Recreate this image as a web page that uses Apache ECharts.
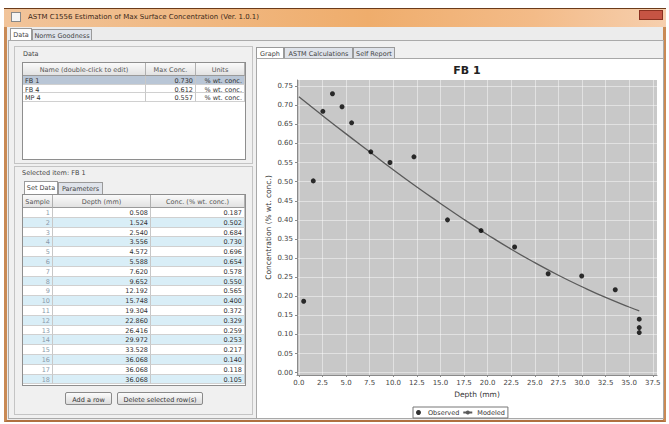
<!DOCTYPE html>
<html><head><meta charset="utf-8">
<script src="https://cdn.jsdelivr.net/npm/echarts@6/dist/echarts.min.js"></script>
<style>
html,body{margin:0;padding:0;width:669px;height:424px;overflow:hidden;background:#fff;font-family:"DejaVu Sans","Liberation Sans",sans-serif;}
.a{position:absolute;box-sizing:border-box;white-space:nowrap;overflow:hidden;}
.t{font-size:7px;color:#444;line-height:1;}
.tab{background:#dfe3ea;border:1px solid #9a9a9a;border-bottom:none;font-size:6.5px;color:#444;text-align:center;padding-top:2px;}
.tab.sel{background:#fff;}
.grp{border:1px solid #c4c4c4;}
.tbl{border:1px solid #8e8e8e;background:#fff;}
.hd{background:linear-gradient(#fafafa,#e2e2e2);border-right:1px solid #b0b0b0;border-bottom:1px solid #9a9a9a;font-size:6.5px;color:#555;text-align:center;padding-top:3px;}
.cell{font-size:6.5px;color:#333;border-right:1px solid #c8c8c8;border-bottom:1px solid #d0d0d0;padding:1px 2px 0 2px;}
.btn{border:1px solid #8a8a8a;border-radius:2px;background:linear-gradient(#fbfbfb,#dcdcdc);font-size:6.5px;color:#333;text-align:center;padding-top:3px;}
#chart{position:absolute;left:0;top:0;width:669px;height:424px;z-index:5;}
</style></head><body>
<!-- window frame -->
<div class="a" style="left:4px;top:8px;width:662px;height:414px;background:#ececec;border-left:3px solid #c98a55;border-right:3px solid #c98a55;border-bottom:2px solid #b07040;"></div>
<div class="a" style="left:4px;top:8px;width:662px;height:19px;background:linear-gradient(to right,#f1c49a,#efad6c 55%,#f3bb88 80%,#f6cfae);border-top:1px solid #6b3b1a;"></div>
<div class="a" style="left:11px;top:12px;width:10px;height:10px;background:#f4f4f4;border:1px solid #888;"></div>
<div class="a t" style="left:28px;top:14px;color:#3a2818;">ASTM C1556 Estimation of Max Surface Concentration (Ver. 1.0.1)</div>
<div class="a" style="left:639px;top:10px;width:24px;height:10px;background:#c65444;border:1px solid #8a3020;"></div>
<!-- main tabs -->
<div class="a tab sel" style="left:10px;top:28px;width:22px;height:12px;">Data</div>
<div class="a tab" style="left:32px;top:29px;width:60px;height:11px;">Norms Goodness</div>
<div class="a" style="left:8px;top:40px;width:656px;height:379px;background:#f0f0f0;border:1px solid #aaa;"></div>
<!-- Data group -->
<div class="a grp" style="left:14px;top:46px;width:239px;height:118px;"></div>
<div class="a t" style="left:23px;top:51px;font-size:6.5px;">Data</div>
<div class="a tbl" id="topTable" style="left:22px;top:62px;width:224px;height:98px;"></div>
<!-- Selected item group -->
<div class="a grp" style="left:14px;top:166px;width:239px;height:249px;"></div>
<div class="a t" id="selLabel" style="left:22px;top:170px;font-size:6.5px;"></div>
<div class="a tab sel" style="left:24px;top:181px;width:34px;height:13px;">Set Data</div>
<div class="a tab" style="left:58px;top:182px;width:45px;height:12px;">Parameters</div>
<div class="a tbl" id="sampleTable" style="left:22px;top:194px;width:224px;height:192px;"></div>
<div class="a btn" style="left:65px;top:392px;width:47px;height:13px;">Add a row</div>
<div class="a btn" style="left:117px;top:392px;width:86px;height:13px;">Delete selected row(s)</div>
<!-- right panel -->
<div class="a tab sel" style="left:256px;top:47px;width:28px;height:11px;">Graph</div>
<div class="a tab" style="left:284px;top:47px;width:69px;height:11px;">ASTM Calculations</div>
<div class="a tab" style="left:353px;top:47px;width:42px;height:11px;">Self Report</div>
<div class="a" style="left:256px;top:58px;width:408px;height:361px;background:#fff;border:1px solid #a8a8a8;"></div>
<div id="chart"></div>
<script>
// ---- data ----
const itemNames = ['FB 1', 'FB 4', 'MP 4'];
const itemMaxConc = ['0.730', '0.612', '0.557'];
const itemUnits = ['% wt. conc.', '% wt. conc.', '% wt. conc.'];
const selectedItem = 'FB 1';

const depth = [0.508, 1.524, 2.540, 3.556, 4.572, 5.588, 7.620, 9.652, 12.192, 15.748, 19.304, 22.860, 26.416, 29.972, 33.528, 36.068, 36.068, 36.068];
const conc  = [0.187, 0.502, 0.684, 0.730, 0.696, 0.654, 0.578, 0.550, 0.565, 0.400, 0.372, 0.329, 0.259, 0.253, 0.217, 0.140, 0.118, 0.105];

const modelDepth = [0, 2.5, 5, 7.5, 10, 12.5, 15, 17.5, 20, 22.5, 25, 27.5, 30, 32.5, 35, 36.07];
const modelConc  = [0.722, 0.673, 0.625, 0.578, 0.531, 0.486, 0.443, 0.401, 0.361, 0.323, 0.288, 0.255, 0.225, 0.197, 0.172, 0.162];

const xTicks = [0, 2.5, 5, 7.5, 10, 12.5, 15, 17.5, 20, 22.5, 25, 27.5, 30, 32.5, 35, 37.5];
const yTicks = [0, 0.05, 0.10, 0.15, 0.20, 0.25, 0.30, 0.35, 0.40, 0.45, 0.50, 0.55, 0.60, 0.65, 0.70, 0.75];

// ---- GUI tables ----
(function () {
  const tt = document.getElementById('topTable');
  const cols = [[0, 123, 'Name (double-click to edit)'], [123, 50, 'Max Conc.'], [173, 49, 'Units']];
  let h = '';
  cols.forEach(c => { h += `<div class="a hd" style="left:${c[0]}px;top:0;width:${c[1]}px;height:13px;">${c[2]}</div>`; });
  itemNames.forEach((n, i) => {
    const top = 13 + i * 8.5;
    const bg = i === 0 ? '#b9c6d6' : '#fff';
    h += `<div class="a cell" style="left:0;top:${top}px;width:123px;height:8.5px;background:${bg};">${n}</div>`;
    h += `<div class="a cell" style="left:123px;top:${top}px;width:50px;height:8.5px;background:${bg};text-align:right;">${itemMaxConc[i]}</div>`;
    h += `<div class="a cell" style="left:173px;top:${top}px;width:49px;height:8.5px;background:${bg};text-align:right;">${itemUnits[i]}</div>`;
  });
  tt.innerHTML = h;
  document.getElementById('selLabel').textContent = 'Selected item: ' + selectedItem;

  const st = document.getElementById('sampleTable');
  const c2 = [[0, 30, 'Sample'], [30, 98, 'Depth (mm)'], [128, 94, 'Conc. (% wt. conc.)']];
  h = '';
  c2.forEach(c => { h += `<div class="a hd" style="left:${c[0]}px;top:0;width:${c[1]}px;height:13px;">${c[2]}</div>`; });
  depth.forEach((d, i) => {
    const top = 13 + i * 9.8;
    const bg = i % 2 === 0 ? '#ffffff' : '#d9eef7';
    h += `<div class="a cell" style="left:0;top:${top}px;width:30px;height:9.8px;background:${bg};text-align:right;color:#8a9aaa;">${i + 1}</div>`;
    h += `<div class="a cell" style="left:30px;top:${top}px;width:98px;height:9.8px;background:${bg};text-align:right;">${d.toFixed(3)}</div>`;
    h += `<div class="a cell" style="left:128px;top:${top}px;width:94px;height:9.8px;background:${bg};text-align:right;">${conc[i].toFixed(3)}</div>`;
  });
  st.innerHTML = h;
})();

// ---- chart ----
const chart = echarts.init(document.getElementById('chart'), null, { renderer: 'svg', width: 669, height: 424 });
const axisFont = 'DejaVu Sans';
chart.setOption({
  animation: false,
  title: {
    text: 'FB 1', left: 462, top: 60, textAlign: 'center',
    textStyle: { fontSize: 11, fontWeight: 'bold', color: '#222', fontFamily: axisFont }
  },
  grid: { left: 297, top: 80, width: 360, height: 295, show: true, backgroundColor: '#c8c8c8', borderWidth: 0 },
  legend: {
    left: 413, top: 407, orient: 'horizontal',
    data: [{ name: 'Observed', icon: 'circle' }, { name: 'Modeled' }],
    backgroundColor: '#fff', borderColor: '#777', borderWidth: 1, borderRadius: 0,
    padding: [2, 3, 2, 3], itemGap: 3, itemWidth: 9, itemHeight: 5,
    textStyle: { fontSize: 6.5, color: '#333', fontFamily: axisFont }
  },
  xAxis: {
    type: 'value', min: -0.2, max: 37.95,
    name: 'Depth (mm)', nameLocation: 'middle', nameGap: 15,
    nameTextStyle: { fontSize: 7.5, color: '#333', fontFamily: axisFont },
    axisLine: { onZero: false, lineStyle: { color: '#8a8a8a' } },
    axisTick: { show: true, customValues: xTicks, length: 2, lineStyle: { color: '#8a8a8a' } },
    axisLabel: { customValues: xTicks, formatter: v => v.toFixed(1), fontSize: 7, color: '#444', margin: 4, fontFamily: axisFont },
    splitLine: { show: true, lineStyle: { color: 'rgba(255,255,255,0.45)', width: 1 } }
  },
  yAxis: {
    type: 'value', min: -0.006, max: 0.766,
    name: 'Concentration (% wt. conc.)', nameLocation: 'middle', nameGap: 25, nameMoveOverlap: false,
    nameTextStyle: { fontSize: 7.5, color: '#333', fontFamily: axisFont },
    axisLine: { show: true, onZero: false, lineStyle: { color: '#8a8a8a' } },
    axisTick: { show: true, customValues: yTicks, length: 2, lineStyle: { color: '#8a8a8a' } },
    axisLabel: { customValues: yTicks, formatter: v => v.toFixed(2), fontSize: 7, color: '#444', margin: 4, fontFamily: axisFont },
    splitLine: { show: true, lineStyle: { color: 'rgba(255,255,255,0.45)', width: 1 } }
  },
  series: [
    {
      name: 'Modeled', type: 'line', z: 2, smooth: true, symbol: 'none',
      data: modelDepth.map((d, i) => [d, modelConc[i]]),
      lineStyle: { color: '#5a5a5a', width: 1.3 }, itemStyle: { color: '#5a5a5a' }
    },
    {
      name: 'Observed', type: 'scatter', z: 3, symbolSize: 5,
      data: depth.map((d, i) => [d, conc[i]]),
      itemStyle: { color: '#000' }
    }
  ]
});
</script>
</body></html>
